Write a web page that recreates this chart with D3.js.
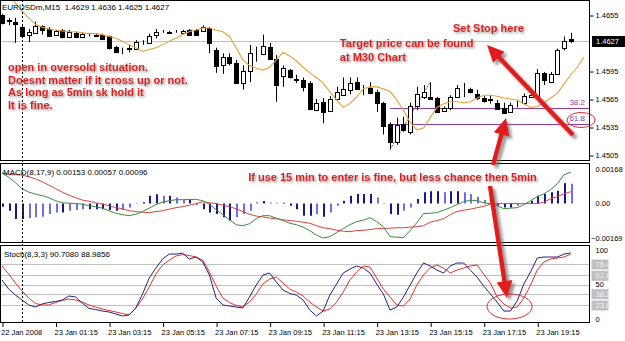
<!DOCTYPE html>
<html>
<head>
<meta charset="utf-8">
<script src="https://cdn.jsdelivr.net/npm/d3@7"></script>
<style>
  body { margin: 0; background: #fff; }
  svg { display: block; }
  text { font-family: "Liberation Sans", Arial, sans-serif; }
</style>
</head>
<body>
<div id="chart"></div>
<script>
// ---- data (EURUSDm, M15, 22-23 Jan 2008) ----
var symbol = "EURUSDm,M15";
var timeLabels = ["22 Jan 2008", "23 Jan 01:15", "23 Jan 03:15", "23 Jan 05:15", "23 Jan 07:15",
    "23 Jan 09:15", "23 Jan 11:15", "23 Jan 13:15", "23 Jan 15:15", "23 Jan 17:15", "23 Jan 19:15"];
var timeTickBars = [0, 8, 16, 24, 32, 40, 48, 56, 64, 72, 80];
var separatorBar = 3;   // 23 Jan 00:00

var opens = [1.4655,1.4650,1.4647,1.4642,1.4634,1.4636,1.4643,1.4640,1.4634,1.4639,
    1.4632,1.4636,1.4632,1.4634,1.4634,1.4634,1.4632,1.4621,1.4617,1.4619,
    1.4619,1.4626,1.4625,1.4634,1.4637,1.4636,1.4637,1.4636,1.4639,1.4639,
    1.4638,1.4641,1.4618,1.4601,1.4610,1.4604,1.4582,1.4595,1.4615,1.4613,
    1.4621,1.4608,1.4589,1.4596,1.4586,1.4585,1.4582,1.4554,1.4562,1.4552,
    1.4565,1.4570,1.4574,1.4583,1.4576,1.4577,1.4573,1.4561,1.4538,1.4519,
    1.4538,1.4530,1.4557,1.4567,1.4567,1.4566,1.4552,1.4555,1.4567,1.4577,
    1.4576,1.4570,1.4566,1.4565,1.4561,1.4555,1.4552,1.4560,1.4560,1.4567,
    1.4567,1.4593,1.4583,1.4592,1.4619,1.4629];
var highs = [1.4656,1.4652,1.4652,1.4644,1.4640,1.4648,1.4644,1.4642,1.4639,1.4640,
    1.4639,1.4637,1.4636,1.4635,1.4635,1.4635,1.4633,1.4622,1.4620,1.4623,
    1.4628,1.4628,1.4635,1.4640,1.4639,1.4638,1.4639,1.4639,1.4640,1.4640,
    1.4644,1.4642,1.4620,1.4614,1.4614,1.4607,1.4601,1.4623,1.4621,1.4634,
    1.4625,1.4612,1.4601,1.4597,1.4591,1.4588,1.4584,1.4565,1.4566,1.4568,
    1.4578,1.4588,1.4588,1.4588,1.4580,1.4583,1.4575,1.4562,1.4540,1.4545,
    1.4546,1.4561,1.4578,1.4580,1.4583,1.4567,1.4557,1.4569,1.4580,1.4582,
    1.4577,1.4575,1.4568,1.4569,1.4564,1.4561,1.4561,1.4564,1.4571,1.4570,
    1.4597,1.4594,1.4594,1.4619,1.4632,1.4636];
var lows = [1.4645,1.4644,1.4625,1.4630,1.4626,1.4635,1.4634,1.4632,1.4633,1.4630,
    1.4632,1.4631,1.4631,1.4632,1.4632,1.4629,1.4618,1.4614,1.4613,1.4615,
    1.4618,1.4623,1.4624,1.4630,1.4636,1.4635,1.4636,1.4635,1.4633,1.4633,
    1.4637,1.4614,1.4593,1.4592,1.4601,1.4582,1.4575,1.4583,1.4605,1.4612,
    1.4607,1.4562,1.4578,1.4587,1.4582,1.4573,1.4553,1.4552,1.4539,1.4551,
    1.4564,1.4569,1.4570,1.4575,1.4569,1.4570,1.4551,1.4527,1.4511,1.4516,
    1.4530,1.4527,1.4553,1.4565,1.4564,1.4550,1.4551,1.4553,1.4566,1.4567,
    1.4571,1.4564,1.4561,1.4560,1.4554,1.4549,1.4551,1.4556,1.4559,1.4566,
    1.4566,1.4580,1.4582,1.4591,1.4617,1.4625];
var closes = [1.4646,1.4649,1.4645,1.4632,1.4637,1.4643,1.4639,1.4633,1.4638,1.4632,
    1.4637,1.4632,1.4635,1.4634,1.4633,1.4630,1.4619,1.4616,1.4617,1.4620,
    1.4626,1.4626,1.4633,1.4637,1.4637,1.4637,1.4637,1.4638,1.4634,1.4634,
    1.4642,1.4625,1.4601,1.4610,1.4604,1.4583,1.4595,1.4614,1.4615,1.4622,
    1.4608,1.4580,1.4598,1.4588,1.4585,1.4578,1.4554,1.4561,1.4551,1.4565,
    1.4573,1.4576,1.4582,1.4576,1.4576,1.4572,1.4561,1.4536,1.4519,1.4537,
    1.4532,1.4558,1.4570,1.4572,1.4565,1.4551,1.4555,1.4567,1.4577,1.4577,
    1.4573,1.4566,1.4563,1.4564,1.4555,1.4550,1.4559,1.4560,1.4568,1.4569,
    1.4593,1.4585,1.4592,1.4618,1.4627,1.4627];

// moving average (drawn shifted, runs two bars past the last candle)
var maValues = [1.4684,1.4677,1.4668,1.4659,1.4652,1.4645,1.4642,1.4640,1.4639,1.4638,
    1.4637,1.4637,1.4636,1.4635,1.4635,1.4634,1.4632,1.4630,1.4627,1.4623,
    1.4620,1.4616,1.4618,1.4620,1.4623,1.4627,1.4630,1.4634,1.4637,1.4639,
    1.4641,1.4641,1.4639,1.4637,1.4632,1.4620,1.4607,1.4601,1.4598,1.4596,
    1.4599,1.4607,1.4615,1.4611,1.4606,1.4599,1.4593,1.4588,1.4582,1.4573,
    1.4564,1.4556,1.4560,1.4567,1.4576,1.4578,1.4578,1.4576,1.4573,1.4564,
    1.4553,1.4540,1.4532,1.4534,1.4545,1.4556,1.4560,1.4562,1.4562,1.4561,
    1.4562,1.4566,1.4569,1.4569,1.4568,1.4566,1.4565,1.4564,1.4560,1.4556,
    1.4557,1.4561,1.4566,1.4571,1.4581,1.4591,1.4599,1.4610];

var priceTicks = [1.4505, 1.4535, 1.4565, 1.4595, 1.4655];
var fibLowBar = 58, fibHighBar = 64;
var fibLevels = [38.2, 61.8];

// MACD(8,17,9)
var macdMain = [0.00150,0.00128,0.00101,0.00072,0.00055,0.00045,0.00038,0.00028,0.00013,0.00003,
    0.00001,-0.00001,-0.00004,-0.00011,-0.00016,-0.00023,-0.00036,-0.00048,-0.00055,-0.00060,
    -0.00053,-0.00040,-0.00023,-0.00006,0.00006,0.00013,0.00018,0.00018,0.00019,0.00020,
    0.00013,-0.00004,-0.00031,-0.00055,-0.00080,-0.00104,-0.00109,-0.00099,-0.00075,-0.00060,
    -0.00060,-0.00072,-0.00084,-0.00097,-0.00104,-0.00116,-0.00133,-0.00155,-0.00169,-0.00162,
    -0.00143,-0.00123,-0.00104,-0.00089,-0.00082,-0.00070,-0.00089,-0.00114,-0.00162,-0.00165,
    -0.00167,-0.00133,-0.00094,-0.00050,-0.00048,-0.00045,-0.00033,-0.00021,-0.00006,0.00008,
    0.00016,0.00013,0.00003,-0.00001,-0.00011,-0.00026,-0.00023,-0.00021,-0.00006,0.00013,
    0.00033,0.00047,0.00067,0.00096,0.00140,0.00153];
var macdSignal = [0.00148,0.00142,0.00140,0.00138,0.00130,0.00120,0.00106,0.00089,0.00072,0.00055,
    0.00040,0.00028,0.00016,0.00011,0.00003,-0.00004,-0.00011,-0.00021,-0.00026,-0.00036,
    -0.00040,-0.00043,-0.00045,-0.00040,-0.00036,-0.00028,-0.00021,-0.00016,-0.00009,-0.00001,
    0.00008,0.00003,-0.00001,-0.00009,-0.00016,-0.00026,-0.00040,-0.00053,-0.00062,-0.00066,
    -0.00072,-0.00075,-0.00080,-0.00084,-0.00087,-0.00092,-0.00097,-0.00109,-0.00119,-0.00123,
    -0.00131,-0.00136,-0.00138,-0.00133,-0.00131,-0.00128,-0.00123,-0.00123,-0.00121,-0.00119,
    -0.00119,-0.00116,-0.00114,-0.00109,-0.00092,-0.00084,-0.00075,-0.00055,-0.00040,-0.00033,
    -0.00028,-0.00021,-0.00014,-0.00004,-0.00001,-0.00001,-0.00001,-0.00001,-0.00001,-0.00001,
    -0.00001,0.00006,0.00023,0.00033,0.00047,0.00057];
var macdHist = [-0.00016,-0.00036,-0.00076,-0.00076,-0.00071,-0.00068,-0.00065,-0.00052,-0.00044,-0.00044,
    -0.00036,-0.00032,-0.00028,-0.00028,-0.00028,-0.00028,-0.00032,-0.00036,-0.00032,-0.00020,
    -0.00003,0.00005,0.00037,0.00045,0.00037,0.00037,0.00029,0.00016,0.00020,-0.00008,
    -0.00028,-0.00044,-0.00052,-0.00068,-0.00085,-0.00068,-0.00052,-0.00036,0.00005,0.00012,
    0.00004,0.00003,0.00003,-0.00012,-0.00028,-0.00060,-0.00060,-0.00052,-0.00065,-0.00044,
    -0.00011,0.00013,0.00037,0.00046,0.00046,0.00046,0.00029,-0.00003,-0.00052,-0.00055,
    -0.00036,-0.00020,0.00021,0.00054,0.00059,0.00059,0.00054,0.00059,0.00059,0.00054,
    0.00046,0.00033,0.00016,0.00010,-0.00011,-0.00020,-0.00020,-0.00011,-0.00003,0.00013,
    0.00037,0.00046,0.00054,0.00062,0.00098,0.00096];
var macdTicks = [0.00168, 0, -0.00169];

// Stoch(8,3,3)
var stochMain = [55.8,44.2,36.4,30.0,23.6,21.0,24.9,26.8,28.1,30.0,
    35.2,33.9,26.1,19.1,17.8,15.8,14.6,12.0,9.4,10.7,
    19.7,37.7,58.3,71.2,82.8,89.2,89.2,90.5,82.8,85.4,
    79.0,62.2,32.6,23.6,22.3,21.0,19.7,33.9,49.3,62.2,
    64.8,53.2,42.9,38.4,36.4,30.0,17.1,9.4,15.8,36.4,
    50.6,64.8,69.9,73.8,71.2,64.8,50.6,37.7,17.1,21.0,
    33.9,49.3,64.8,77.7,73.8,68.6,64.8,73.8,77.7,77.7,
    68.6,59.6,48.0,37.7,27.4,15.8,15.8,28.7,50.6,66.1,
    84.1,85.4,85.4,85.4,89.2,90.7080];
var stochSignal = [73.8,63.5,51.9,41.6,32.6,25.5,23.6,23.6,26.8,29.4,
    31.3,30.0,27.4,23.6,21.0,18.4,16.5,14.6,12.6,10.7,
    19.7,31.3,46.7,63.5,75.1,81.5,86.7,88.6,87.3,85.4,
    81.5,66.1,48.0,32.6,26.8,22.9,21.6,27.4,37.7,50.6,
    57.1,59.6,51.9,44.2,40.3,35.2,27.4,21.0,15.8,18.4,
    27.4,40.3,55.8,66.1,73.8,72.5,58.3,44.2,33.9,23.6,
    22.3,31.3,49.3,62.2,71.2,75.1,71.2,64.8,68.6,71.2,
    73.8,75.1,63.5,51.9,33.9,24.9,19.7,21.0,32.6,49.3,
    68.6,79.0,82.8,84.1,85.4,88.9856];
var stochLevels = [76.4, 61.8, 50, 38.2, 23.6];
var stochBoxed = [76.4, 61.8, 38.2, 23.6];

// hand-drawn annotations
var oversoldNote = ["open in oversold situation.", "Doesnt matter if it cross up or not.",
    "As long as 5min sk hold it", "It is fine."];
var targetNote = ["Target price can be found", "at M30 Chart"];
var stopNote = "Set Stop here";
var macdNote = "If use 15 min to enter is fine, but less chance then 5min";

// ---- layout ----
var W = 625, H = 341, plotR = 590;
var panels = {
    main: { top: 0, bottom: 161 },
    macd: { top: 163, bottom: 243 },
    stoch: { top: 245, bottom: 323 }
};

var svg = d3.select("#chart").append("svg")
    .attr("width", W).attr("height", H);

var x = d3.scaleLinear().domain([0, 85]).range([2, 570.7]);
var yP = d3.scaleLinear().domain([1.4505, 1.4655]).range([155, 15]);
var yM = d3.scaleLinear().domain([-0.00169, 0.00168]).range([238, 169]);
var yS = d3.scaleLinear().domain([0, 100]).range([323.3, 245.7]);
var yOf = { main: yP, macd: yM, stoch: yS };

function px(v) { return Math.round(v) + 0.5; }

// defs: clips and shadows
var defs = svg.append("defs");
Object.keys(panels).forEach(function (k) {
    defs.append("clipPath").attr("id", "clip-" + k)
        .append("rect")
        .attr("x", 1).attr("y", panels[k].top + 1)
        .attr("width", plotR - 1).attr("height", panels[k].bottom - panels[k].top - 1);
});
defs.append("filter").attr("id", "txtShadow")
    .attr("x", "-5%").attr("y", "-30%").attr("width", "115%").attr("height", "180%")
    .append("feDropShadow")
    .attr("dx", 1.5).attr("dy", 1.5).attr("stdDeviation", 0.8)
    .attr("flood-color", "#808080").attr("flood-opacity", 0.85);
defs.append("filter").attr("id", "arrShadow")
    .attr("x", "-20%").attr("y", "-20%").attr("width", "150%").attr("height", "150%")
    .append("feDropShadow")
    .attr("dx", 3).attr("dy", 3).attr("stdDeviation", 1.5)
    .attr("flood-color", "#707070").attr("flood-opacity", 0.75);

// ---- panel backgrounds ----
Object.keys(panels).forEach(function (k) {
    svg.append("rect")
        .attr("x", 0.5).attr("y", panels[k].top + 0.5)
        .attr("width", plotR - 1).attr("height", panels[k].bottom - panels[k].top - 1)
        .attr("fill", "#fff");
});

// ---- main panel ----
var gMain = svg.append("g").attr("clip-path", "url(#clip-main)");
var lastI = closes.length - 1;

// bid line
gMain.append("line")
    .attr("x1", 0).attr("x2", plotR)
    .attr("y1", px(yP(closes[lastI]))).attr("y2", px(yP(closes[lastI])))
    .attr("stroke", "#c0c0c0");

// fibonacci
var fibLow = lows[fibLowBar], fibHigh = highs[fibHighBar];
var fibColor = "#8e3d9e";
fibLevels.forEach(function (lv) {
    var p = fibHigh - (fibHigh - fibLow) * lv / 100;
    gMain.append("line")
        .attr("x1", x(fibLowBar)).attr("x2", plotR)
        .attr("y1", px(yP(p))).attr("y2", px(yP(p)))
        .attr("stroke", fibColor);
    gMain.append("text")
        .attr("x", 585).attr("y", yP(p) - 3)
        .attr("text-anchor", "end")
        .attr("font-size", 8).attr("fill", fibColor)
        .text(lv.toFixed(1));
});
gMain.append("line")
    .attr("x1", x(fibLowBar)).attr("y1", yP(fibLow))
    .attr("x2", x(fibHighBar)).attr("y2", yP(fibHigh))
    .attr("stroke", fibColor).attr("stroke-dasharray", "2,1");

// candles
var candles = gMain.selectAll(".candle")
    .data(d3.range(opens.length))
    .enter().append("g").attr("class", "candle");
candles.append("line")
    .attr("x1", function (i) { return px(x(i)); })
    .attr("x2", function (i) { return px(x(i)); })
    .attr("y1", function (i) { return yP(highs[i]); })
    .attr("y2", function (i) { return yP(lows[i]); })
    .attr("stroke", "#000");
candles.append("rect")
    .attr("x", function (i) { return px(x(i)) - 2; })
    .attr("width", 4)
    .attr("y", function (i) { return Math.round(yP(Math.max(opens[i], closes[i]))) + 0.5; })
    .attr("height", function (i) {
        return Math.max(0, Math.round(yP(Math.min(opens[i], closes[i])) - yP(Math.max(opens[i], closes[i]))));
    })
    .attr("fill", function (i) { return closes[i] < opens[i] ? "#000" : "#fff"; })
    .attr("stroke", "#000");

// moving average
var maLine = d3.line()
    .x(function (d, i) { return x(i); })
    .y(function (d) { return yP(d); });
gMain.append("path")
    .datum(maValues)
    .attr("d", maLine)
    .attr("fill", "none")
    .attr("stroke", "#e3a33a")
    .attr("stroke-width", 1.1);

// ---- MACD panel ----
var gMacd = svg.append("g").attr("clip-path", "url(#clip-macd)");
gMacd.selectAll(".hist")
    .data(macdHist)
    .enter().append("line")
    .attr("class", "hist")
    .attr("x1", function (d, i) { return Math.round(x(i)) + 1; })
    .attr("x2", function (d, i) { return Math.round(x(i)) + 1; })
    .attr("y1", yM(0))
    .attr("y2", function (d) { return yM(d); })
    .attr("stroke", function (d, i) {
        return (i > 0 && Math.abs(d) < Math.abs(macdHist[i - 1])) ? "#6f6fe8" : "#18188c";
    })
    .attr("stroke-width", 2);

function indLine(scale) {
    return d3.line()
        .x(function (d, i) { return x(i); })
        .y(function (d) { return scale(d); });
}
gMacd.append("path").datum(macdSignal).attr("d", indLine(yM))
    .attr("fill", "none").attr("stroke", "#e0403a");
gMacd.append("path").datum(macdMain).attr("d", indLine(yM))
    .attr("fill", "none").attr("stroke", "#3a8a3a");

// ---- Stoch panel ----
var gSto = svg.append("g").attr("clip-path", "url(#clip-stoch)");
gSto.selectAll(".lvl")
    .data(stochLevels)
    .enter().append("line")
    .attr("class", "lvl")
    .attr("x1", 0).attr("x2", plotR)
    .attr("y1", function (d) { return px(yS(d)); })
    .attr("y2", function (d) { return px(yS(d)); })
    .attr("stroke", "#c0c0c0");
gSto.append("path").datum(stochSignal).attr("d", indLine(yS))
    .attr("fill", "none").attr("stroke", "#e8302a");
gSto.append("path").datum(stochMain).attr("d", indLine(yS))
    .attr("fill", "none").attr("stroke", "#23237f");

// ---- frames on top ----
Object.keys(panels).forEach(function (k) {
    svg.append("rect")
        .attr("x", 0.5).attr("y", panels[k].top + 0.5)
        .attr("width", plotR - 1).attr("height", panels[k].bottom - panels[k].top - 1)
        .attr("fill", "none").attr("stroke", "#000");
});

// period separator
svg.append("line")
    .attr("x1", px(x(separatorBar))).attr("x2", px(x(separatorBar)))
    .attr("y1", 0).attr("y2", panels.stoch.bottom)
    .attr("stroke", "#000").attr("stroke-dasharray", "2,2");

// ---- axes ----
var priceAxis = d3.axisRight(yP).tickValues(priceTicks).tickSize(4)
    .tickFormat(d3.format(".4f"));
svg.append("g").attr("class", "axis")
    .attr("transform", "translate(" + (plotR - 0.5) + ",0.5)")
    .call(priceAxis);

var macdAxis = d3.axisRight(yM).tickValues(macdTicks).tickSize(0)
    .tickFormat(function (d) { return d === 0 ? "0.00" : d3.format(".5f")(d); });
var gMa = svg.append("g").attr("class", "axis")
    .attr("transform", "translate(" + (plotR - 0.5) + ",0)")
    .call(macdAxis);

var stochAxis = d3.axisRight(yS).tickValues([100].concat(stochLevels).concat([0])).tickSize(0)
    .tickFormat(function (d) { return String(d); });
var gSa = svg.append("g").attr("class", "axis")
    .attr("transform", "translate(" + (plotR - 0.5) + ",0)")
    .call(stochAxis);

var timeAxis = d3.axisBottom(x).tickValues(timeTickBars).tickSize(4)
    .tickFormat(function (d, i) { return timeLabels[i]; });
var gTa = svg.append("g").attr("class", "axis")
    .attr("transform", "translate(0.5," + panels.stoch.bottom + ")")
    .call(timeAxis);

svg.selectAll(".axis .domain").remove();
svg.selectAll(".axis line").attr("stroke", "#000");
svg.selectAll(".axis text").attr("font-size", 7.5)
    .attr("font-family", "'Liberation Sans', Arial, sans-serif").attr("fill", "#000");
gTa.selectAll("text").attr("text-anchor", "start").attr("dx", -2).attr("dy", "0.71em");
svg.selectAll(".axis").filter(function () { return this !== gTa.node(); })
    .selectAll("text").attr("x", 6);
// negative MACD label starts right at the frame
gMa.selectAll(".tick").filter(function (d) { return d < 0; }).select("text").attr("x", 1.5);

// stoch 100 / 0 labels sit inside the panel
gSa.selectAll(".tick").filter(function (d) { return d === 100; }).select("text").attr("dy", "0.9em");
gSa.selectAll(".tick").filter(function (d) { return d === 0; }).select("text").attr("dy", "-0.2em");
// grey boxes behind fib-level labels
gSa.selectAll(".tick").filter(function (d) { return stochBoxed.indexOf(d) >= 0; })
    .insert("rect", "text")
    .attr("x", 2).attr("y", -5).attr("width", 17).attr("height", 10)
    .attr("fill", "#c0c0c0");
gSa.selectAll(".tick").filter(function (d) { return stochBoxed.indexOf(d) >= 0; })
    .select("text").attr("fill", "#f0f0f0");

// current price box
var lastY = yP(closes[lastI]);
svg.append("rect")
    .attr("x", plotR + 2).attr("y", Math.round(lastY) - 5)
    .attr("width", 33).attr("height", 11).attr("fill", "#000");
svg.append("text")
    .attr("x", plotR + 6).attr("y", lastY + 3)
    .attr("font-size", 7.5).attr("fill", "#fff")
    .text(closes[lastI].toFixed(4));

// ---- panel headers ----
var f4 = d3.format(".4f"), f5 = d3.format(".5f");
svg.append("text").attr("x", 2).attr("y", 10).attr("font-size", 8)
    .attr("xml:space", "preserve")
    .text(symbol + "  " + [opens[lastI], highs[lastI], lows[lastI], closes[lastI]].map(f4).join(" "));
svg.append("text").attr("x", 3).attr("y", 175).attr("font-size", 8)
    .text("MACD(8,17,9) " + [macdMain[lastI], macdSignal[lastI], macdHist[lastI]].map(f5).join(" "));
svg.append("text").attr("x", 4).attr("y", 257).attr("font-size", 8)
    .text("Stoch(8,3,3) " + [stochMain[lastI], stochSignal[lastI]].map(f4).join(" "));

// ---- annotations ----
var red = "#e01b1b";
var gNote = svg.append("g").attr("filter", "url(#txtShadow)")
    .attr("font-weight", "bold").attr("font-size", 11).attr("fill", red);

function noteBlock(lines, bar, yTop, step) {
    gNote.selectAll(null).data(lines).enter().append("text")
        .attr("x", x(bar))
        .attr("y", function (d, i) { return yTop + i * step; })
        .text(function (d) { return d; });
}
noteBlock(oversoldNote, 0.9, yP(1.4595), 12.7);
noteBlock(targetNote, 50.5, yP(1.4621), 14);
noteBlock([stopNote], 67.4, yP(1.4637), 0);
noteBlock([macdNote], 36.8, yM(0.00109), 0);

var gArr = svg.append("g").attr("filter", "url(#arrShadow)");
function arrow(a, b) {
    var x1 = x(a.bar), y1 = yOf[a.panel](a.v), x2 = x(b.bar), y2 = yOf[b.panel](b.v);
    var dx = x2 - x1, dy = y2 - y1, len = Math.sqrt(dx * dx + dy * dy);
    var ux = dx / len, uy = dy / len, hl = 17, hw = 8;
    var bx = x2 - ux * hl, by = y2 - uy * hl;
    gArr.append("line")
        .attr("x1", x1).attr("y1", y1).attr("x2", bx + ux * 2).attr("y2", by + uy * 2)
        .attr("stroke", red).attr("stroke-width", 4.5);
    gArr.append("path")
        .attr("d", "M" + x2 + "," + y2 +
            "L" + (bx - uy * hw) + "," + (by + ux * hw) +
            "L" + (bx + uy * hw) + "," + (by - ux * hw) + "Z")
        .attr("fill", red);
}
arrow({ bar: 85.35, panel: "main", v: 1.45265 }, { bar: 72.5, panel: "main", v: 1.46229 });
arrow({ bar: 73.4, panel: "main", v: 1.44943 }, { bar: 75.34, panel: "main", v: 1.45447 });
arrow({ bar: 72.94, panel: "macd", v: 0.00085 }, { bar: 75.49, panel: "stoch", v: 32.6 });

svg.append("ellipse")
    .attr("cx", x(86.55)).attr("cy", yP(1.45425)).attr("rx", 14).attr("ry", 7.5)
    .attr("fill", "none").attr("stroke", "#d83030");
svg.append("ellipse")
    .attr("cx", x(75.86)).attr("cy", yS(21.6)).attr("rx", 22.5).attr("ry", 12.5)
    .attr("fill", "none").attr("stroke", "#d83030");
</script>
</body>
</html>
